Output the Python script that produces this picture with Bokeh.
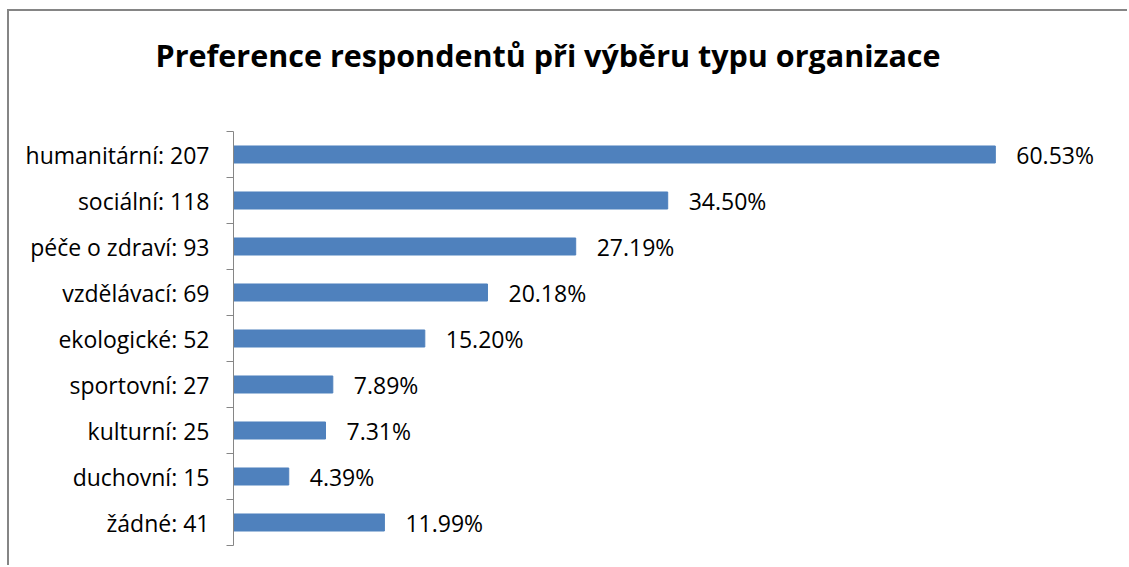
from bokeh.plotting import figure
from bokeh.layouts import column
from bokeh.models import ColumnDataSource, FixedTicker, Range1d, Title
from bokeh.embed import file_html
from bokeh.resources import INLINE
from bokeh.core.properties import value

categories = ["humanitární", "sociální", "péče o zdraví", "vzdělávací", "ekologické",
              "sportovní", "kulturní", "duchovní", "žádné"]
counts = [207, 118, 93, 69, 52, 27, 25, 15, 41]
percents = [60.53, 34.50, 27.19, 20.18, 15.20, 7.89, 7.31, 4.39, 11.99]
title_text = "Preference respondentů při výběru typu organizace"

n = len(categories)
ypos = [n - i for i in range(n)]
labels = [f"{c}: {k}" for c, k in zip(categories, counts)]
pct_text = [f"{p:.2f}%" for p in percents]

source = ColumnDataSource(dict(y=ypos, pct=percents, txt=pct_text))

FONT = "Open Sans"
GRAY = "#868686"

p = figure(width=1120, height=556, output_backend="svg", toolbar_location=None,
           x_range=Range1d(0, 70), y_range=Range1d(0.5, n + 0.5),
           min_border_left=224, min_border_right=15, min_border_top=120,
           min_border_bottom=22)
p.title.text = ""
spacer = Title(text=" ", text_font=FONT, text_font_size="38px", standoff=0)
p.add_layout(spacer, "above")
main_title = Title(text=title_text, text_font=FONT, text_font_size="30.5px",
                   text_font_style="bold", text_color="#000000",
                   align="left", offset=-78, vertical_align="top", standoff=0)
p.add_layout(main_title, "above")
p.outline_line_color = None
p.background_fill_color = "white"
p.border_fill_color = "white"

p.xaxis.visible = False
p.xgrid.visible = False
p.ygrid.visible = False

yax = p.yaxis[0]
yax.ticker = FixedTicker(ticks=ypos, minor_ticks=[v + 0.5 for v in range(n + 1)])
yax.major_label_overrides = {y: lab for y, lab in zip(ypos, labels)}
yax.major_tick_line_color = None
yax.major_tick_out = 0
yax.major_tick_in = 0
yax.minor_tick_line_color = GRAY
yax.minor_tick_out = 7
yax.minor_tick_in = 0
yax.axis_line_color = GRAY
yax.major_label_standoff = 17
yax.major_label_text_font = FONT
yax.major_label_text_font_size = "23px"
yax.major_label_text_color = "#000000"

p.hbar(y="y", left=0, right="pct", height=0.37, source=source,
       fill_color="#4F81BD", line_color="#4F81BD")
p.text(x="pct", y="y", text="txt", source=source, x_offset=21,
       text_baseline="middle", text_align="left", text_font=value(FONT),
       text_font_size="23px", text_color="#000000")

# chart-area frame: only its left and top edges fall inside the window
layout = column(p, styles={"margin-left": "9px", "margin-top": "11px",
                           "box-shadow": "-2px -2px 0 0 #858585"})

open("out.html", "w").write(file_html(layout, INLINE))
